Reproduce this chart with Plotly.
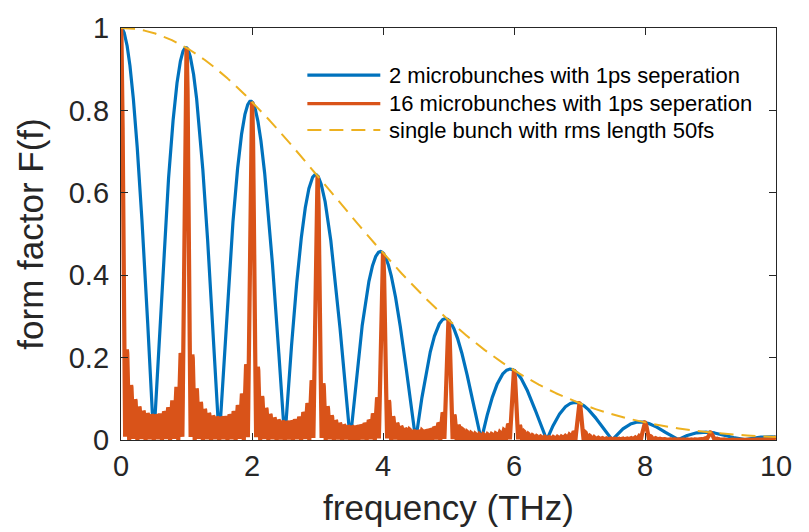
import numpy as np
import plotly.graph_objects as go

freq_thz = np.arange(0, 10001) / 1000.0          # frequency grid, THz
n_bunches = [2, 16]                               # microbunch counts
separation_ps = 1.0                               # microbunch separation, ps
rms_length_fs = 50.0                              # single-bunch rms length, fs
legend_labels = ["2 microbunches with 1ps seperation",
                 "16 microbunches with 1ps seperation",
                 "single bunch with rms length 50fs"]
x_ticks = [0, 2, 4, 6, 8, 10]
y_ticks = [0, 0.2, 0.4, 0.6, 0.8, 1]
y_tick_text = ["0", "0.2", "0.4", "0.6", "0.8", "1"]

# single Gaussian bunch form factor
sigma_ps = rms_length_fs / 1000.0
single = np.exp(-0.5 * (2 * np.pi * freq_thz * sigma_ps) ** 2)

def train(n):
    arg = np.pi * freq_thz * separation_ps
    with np.errstate(divide="ignore", invalid="ignore"):
        r = np.abs(np.sin(n * arg) / (n * np.sin(arg)))
    r[freq_thz == 0] = 1.0
    return r * single

blue_y = train(n_bunches[0])
orange_y = train(n_bunches[1])

BLUE = "#0072BD"
ORANGE = "#D95319"
YELLOW = "#EDB120"
AX = "#262626"
FONT = "Liberation Sans, Arial, sans-serif"

fig = go.Figure()
fig.add_trace(go.Scatter(x=freq_thz, y=blue_y, mode="lines",
                         line=dict(color=BLUE, width=3.2), name=legend_labels[0],
                         showlegend=False, hoverinfo="skip"))
fig.add_trace(go.Scatter(x=freq_thz, y=orange_y, mode="lines",
                         line=dict(color=ORANGE, width=4.2), name=legend_labels[1],
                         showlegend=False, hoverinfo="skip"))
fig.add_trace(go.Scatter(x=freq_thz, y=single, mode="lines",
                         line=dict(color=YELLOW, width=2, dash="14px,8px"),
                         name=legend_labels[2], showlegend=False, hoverinfo="skip"))

# custom legend (MATLAB-style long line samples, no box)
leg_x0, leg_x1, txt_x = 307, 380, 387
leg_rows = [68, 97, 124]
styles = [dict(color=BLUE, width=3.2), dict(color=ORANGE, width=3.2),
          dict(color=YELLOW, width=2, dash="14px,8px")]
W, H = 809, 532
L, R, T, B = 120.5, 33, 20, 92
pw, ph = W - L - R, H - T - B
for lab, yy, st in zip(legend_labels, leg_rows, styles):
    py = 1 - (yy - T) / ph
    fig.add_shape(type="line", xref="paper", yref="paper",
                  x0=(leg_x0 - L) / pw, x1=(leg_x1 - L) / pw, y0=py, y1=py,
                  line=st)
    fig.add_annotation(xref="paper", yref="paper", x=(txt_x - L) / pw, y=py,
                       text=lab, showarrow=False, xanchor="left", yanchor="middle",
                       font=dict(family=FONT, size=22, color="black"))

axis_common = dict(showgrid=False, zeroline=False, showline=True, linecolor=AX,
                   linewidth=1.3, mirror="allticks", ticks="inside", ticklen=7,
                   tickcolor=AX, tickwidth=1.3,
                   tickfont=dict(family=FONT, size=29, color=AX))
fig.update_xaxes(range=[0, 10], tickvals=x_ticks, ticktext=[str(v) for v in x_ticks],
                 title=dict(text="frequency (THz)", standoff=14,
                            font=dict(family=FONT, size=35, color=AX)),
                 **axis_common)
fig.update_yaxes(range=[0, 1], tickvals=y_ticks, ticktext=y_tick_text,
                 ticklabelstandoff=5,
                 title=dict(text="form factor F(f)", standoff=14,
                            font=dict(family=FONT, size=35, color=AX)),
                 **axis_common)
fig.update_layout(width=W, height=H, margin=dict(l=L, r=R, t=T, b=B),
                  plot_bgcolor="white", paper_bgcolor="white")
fig.write_html("out.html")
